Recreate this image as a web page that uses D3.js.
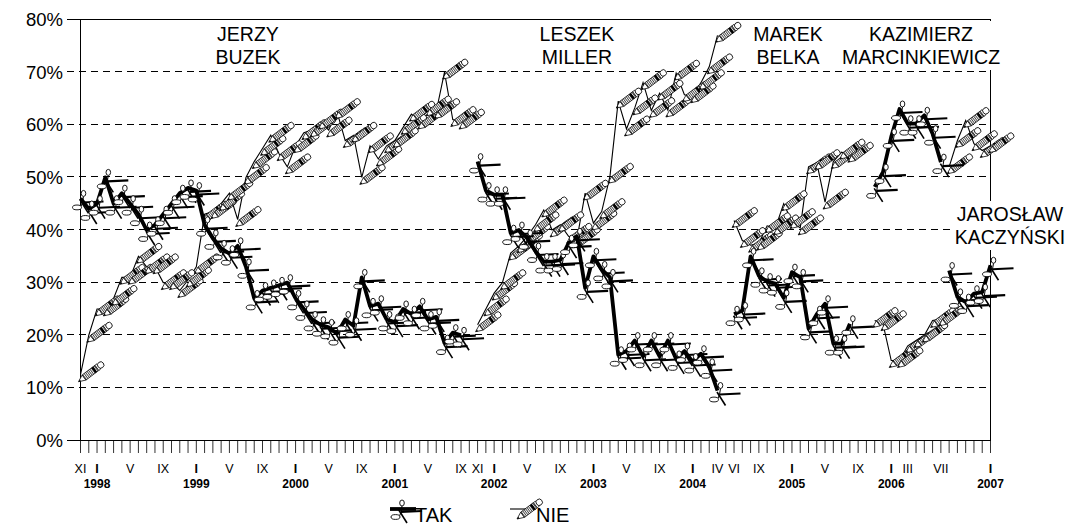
<!DOCTYPE html>
<html><head><meta charset="utf-8">
<script src="https://cdn.jsdelivr.net/npm/d3@7"></script>
<style>body{margin:0;background:#fff}text{font-family:Arial,"Liberation Sans",sans-serif}</style>
</head><body>
<svg id="c" width="1069" height="525"></svg>
<script>
// ---------- DATA ----------
const categories = [
 "1997-11","1997-12",
 "1998-01","1998-02","1998-03","1998-04","1998-05","1998-06","1998-07","1998-08","1998-09","1998-10","1998-11","1998-12",
 "1999-01","1999-02","1999-03","1999-04","1999-05","1999-06","1999-07","1999-08","1999-09","1999-10","1999-11","1999-12",
 "2000-01","2000-02","2000-03","2000-04","2000-05","2000-06","2000-07","2000-08","2000-09","2000-10","2000-11","2000-12",
 "2001-01","2001-02","2001-03","2001-04","2001-05","2001-06","2001-07","2001-08","2001-09","2001-10","2001-11","2001-12",
 "2002-01","2002-02","2002-03","2002-04","2002-05","2002-06","2002-07","2002-08","2002-09","2002-10","2002-11","2002-12",
 "2003-01","2003-02","2003-03","2003-04","2003-05","2003-06","2003-07","2003-08","2003-09","2003-10","2003-11","2003-12",
 "2004-01","2004-02","2004-03","2004-04","2004-05","2004-06","2004-07","2004-08","2004-09","2004-10","2004-11","2004-12",
 "2005-01","2005-02","2005-03","2005-04","2005-05","2005-06","2005-07","2005-08","2005-09","2005-10","2005-11","2005-12",
 "2006-01","2006-02","2006-03","2006-04","2006-05","2006-06","2006-07","2006-08","2006-09","2006-10","2006-11","2006-12",
 "2007-01"
];
// TAK (support) in %
const tak = [
 46,44,
 45,50,45,47,45,43,40,41,43,45,47,48,
 47.5,41,38.5,36.5,35.5,37,33,27,28.5,29,29.5,30,
 27,25,23,22,21.5,20.3,23,21.8,31,25.5,26,23,
 22.5,25,24,25.5,23,23.5,18.5,20.5,20,null,53,47.5,
 46.7,46.7,39.4,40,38.5,36,34,34,34.3,37.5,38.8,29,
 35,32.5,31,16.3,17,19,16,19,16,19,15.5,17,
 15,16.5,14,9.5,null,24,24.7,35,31.3,30.2,29.8,27.1,
 32,31,21.3,24,26,18.4,18.4,22.2,null,null,48.2,51,
 57.7,63,60.2,60.2,61.8,58.3,52.9,32.3,27.3,26.3,27.9,28.2,
 33.3
];
// NIE (opposition) in %
const nie = [
 12.5,20,
 25,25,27,31,31,35,33,33,30,30,28.5,30.5,
 33,43,43.5,45,47,42,50,53,55.5,58,54.5,52,
 56,58.5,59,60.5,59,62.5,57,58,50,56,53.5,56,
 57,59.5,62,60.5,63,62.5,70,61,60.5,null,22,25,
 28,30,35.6,37,38.8,41,43.8,40,41,38.8,38.2,47,
 41.3,43.5,50.2,64.5,59.2,63.2,68,62.7,66,62.8,69.8,65.7,
 65.5,68,71,77,null,41.8,38,37.1,37.5,40.8,40.4,45,
 41.6,40.4,52,52.8,45.3,53,54.8,54.2,null,null,22.8,22.2,
 15.2,15.2,18,19,20,22.8,23.1,52,57,60.8,56.4,55.1,
 56
];
const governments = [
 {name:["JERZY","BUZEK"], from:"1997-11", to:"2001-09"},
 {name:["LESZEK","MILLER"], from:"2001-11", to:"2004-04"},
 {name:["MAREK","BELKA"], from:"2004-06", to:"2005-08"},
 {name:["KAZIMIERZ","MARCINKIEWICZ"], from:"2005-11", to:"2006-07"},
 {name:["JAROSŁAW","KACZYŃSKI"], from:"2006-08", to:"2007-01"}
];
const monthTicks = ["1997-11","1998-01","1998-05","1998-09","1999-01","1999-05","1999-09","2000-01","2000-05","2000-09",
 "2001-01","2001-05","2001-09","2001-11","2002-01","2002-05","2002-09","2003-01","2003-05","2003-09","2004-01","2004-04",
 "2004-06","2004-09","2005-01","2005-05","2005-09","2006-01","2006-03","2006-07","2007-01"];
const romans = ["I","II","III","IV","V","VI","VII","VIII","IX","X","XI","XII"];
const yearTicks = ["1998-01","1999-01","2000-01","2001-01","2002-01","2003-01","2004-01","2005-01","2006-01","2007-01"];
const yTicks = [0,10,20,30,40,50,60,70,80];
const seriesNames = ["TAK","NIE"];

// ---------- LAYOUT ----------
const L = 80, R = 990, T = 19, B = 440;
const svg = d3.select("#c");
svg.append("rect").attr("width",1069).attr("height",525).attr("fill","#fff");
const x = d3.scalePoint().domain(categories).range([L+0.5, R+0.5]);
const y = d3.scaleLinear().domain([0,80]).range([B+0.5, T+0.5]);

// defs: hatch, scissors, pencil
const defs = svg.append("defs");
const pat = defs.append("pattern").attr("id","hatch").attr("patternUnits","userSpaceOnUse").attr("width",1.8).attr("height",8);
pat.append("rect").attr("width",1.8).attr("height",8).attr("fill","#fff");
pat.append("rect").attr("x",0).attr("width",0.9).attr("height",8).attr("fill","#444");

const sc = defs.append("g").attr("id","scis");
sc.append("line").attr("x1",2).attr("y1",4).attr("x2",23).attr("y2",3).attr("stroke","#000").attr("stroke-width",2.1);
sc.append("line").attr("x1",-0.5).attr("y1",1.5).attr("x2",8).attr("y2",15).attr("stroke","#000").attr("stroke-width",1.6);
sc.append("line").attr("x1",3).attr("y1",-2).attr("x2",2).attr("y2",4).attr("stroke","#000").attr("stroke-width",1);
sc.append("line").attr("x1",0.5).attr("y1",8).attr("x2",2).attr("y2",4).attr("stroke","#000").attr("stroke-width",1);
sc.append("ellipse").attr("cx",3).attr("cy",-5).attr("rx",2.3).attr("ry",3).attr("fill","#fff").attr("stroke","#000").attr("stroke-width",0.9);
sc.append("ellipse").attr("cx",-3.5).attr("cy",9).attr("rx",4.5).attr("ry",2.4).attr("fill","#fff").attr("stroke","#000").attr("stroke-width",0.9);

const pc = defs.append("g").attr("id","pencil").attr("transform","rotate(-37)");
pc.append("polygon").attr("points","0,0 7,-3.2 7,3.2").attr("fill","#fff").attr("stroke","#000").attr("stroke-width",0.7);
pc.append("polygon").attr("points","0,0 2.4,-1.1 2.4,1.1").attr("fill","#000");
pc.append("rect").attr("x",7).attr("y",-3.2).attr("width",16).attr("height",6.4).attr("fill","url(#hatch)").attr("stroke","#000").attr("stroke-width",0.7);
pc.append("rect").attr("x",18.5).attr("y",-3.2).attr("width",2.4).attr("height",6.4).attr("fill","#000");
pc.append("rect").attr("x",23).attr("y",-3.2).attr("width",2.5).attr("height",6.4).attr("fill","#fff").attr("stroke","#000").attr("stroke-width",0.7);
pc.append("circle").attr("cx",27.8).attr("cy",0).attr("r",3.2).attr("fill","#fff").attr("stroke","#000").attr("stroke-width",0.8);

// gridlines
svg.append("g").selectAll("line").data(yTicks.filter(d=>d>0 && d<80)).join("line")
 .attr("x1",L-13).attr("x2",R).attr("y1",d=>Math.round(y(d))-0.5).attr("y2",d=>Math.round(y(d))-0.5)
 .attr("stroke","#000").attr("stroke-width",1).attr("stroke-dasharray","7,5");
svg.append("line").attr("x1",L-13).attr("x2",L).attr("y1",B+0.5).attr("y2",B+0.5).attr("stroke","#000");
svg.append("line").attr("x1",L-13).attr("x2",L).attr("y1",T+0.5).attr("y2",T+0.5).attr("stroke","#000");
// y labels
svg.append("g").selectAll("text").data(yTicks).join("text")
 .attr("x",63).attr("y",d=>y(d)+6.5).attr("text-anchor","end").attr("font-size",18.5).text(d=>d+"%");

// x axis ticks
svg.append("g").selectAll("line").data(categories).join("line")
 .attr("x1",d=>x(d)).attr("x2",d=>x(d)).attr("y1",B).attr("y2",B+13).attr("stroke","#333").attr("stroke-width",1);
svg.append("g").selectAll("text").data(monthTicks).join("text")
 .attr("x",d=>x(d)).attr("y",473).attr("text-anchor","middle").attr("font-size",12.5)
 .attr("font-weight",d=>d.endsWith("-01")?"bold":"normal")
 .text(d=>romans[+d.slice(5)-1]);
svg.append("g").selectAll("text").data(yearTicks).join("text")
 .attr("x",d=>x(d)).attr("y",488).attr("text-anchor","middle").attr("font-size",12).attr("font-weight","bold")
 .text(d=>d.slice(0,4));

// frame
svg.append("line").attr("x1",L+0.5).attr("x2",L+0.5).attr("y1",T).attr("y2",B+1).attr("stroke","#000");
svg.append("line").attr("x1",L).attr("x2",R+1).attr("y1",B+0.5).attr("y2",B+0.5).attr("stroke","#000");
svg.append("line").attr("x1",L).attr("x2",R+1).attr("y1",T+0.5).attr("y2",T+0.5).attr("stroke","#000");
svg.append("line").attr("x1",R+0.5).attr("x2",R+0.5).attr("y1",T).attr("y2",B+1).attr("stroke","#000");

// series
const idx = c => categories.indexOf(c);
const line = d3.line().defined(d=>d.v!=null).x(d=>x(d.c)).y(d=>y(d.v));
const plot = svg.append("g");
function segData(vals, g){
  const a = idx(g.from), b = idx(g.to);
  const out = [];
  for(let i=a;i<=b;i++) out.push({c:categories[i], v:vals[i]});
  return out;
}
governments.forEach(g=>{
  plot.append("path").datum(segData(nie,g)).attr("d",line).attr("fill","none").attr("stroke","#000").attr("stroke-width",1.1);
});
governments.forEach(g=>{
  const d = segData(nie,g).filter(p=>p.v!=null);
  plot.append("g").selectAll("use").data(d).join("use").attr("href","#pencil")
    .attr("x",p=>x(p.c)-2).attr("y",p=>y(p.v)+7);
});
governments.forEach(g=>{
  plot.append("path").datum(segData(tak,g)).attr("d",line).attr("fill","none").attr("stroke","#000").attr("stroke-width",3.8).attr("stroke-linejoin","round");
});
governments.forEach(g=>{
  const d = segData(tak,g).filter(p=>p.v!=null);
  plot.append("g").selectAll("use").data(d).join("use").attr("href","#scis")
    .attr("x",p=>x(p.c)).attr("y",p=>y(p.v));
});

// government labels (white boxes)
const labelPos = [[248,41],[577,41],[788,41],[921,41],[1010,221]];
governments.forEach((g,k)=>{
  const [cx,by] = labelPos[k];
  const grp = svg.append("g");
  const bg = grp.append("rect").attr("fill","#fff");
  const t = grp.append("text").attr("text-anchor","middle").attr("font-size",19.5);
  g.name.forEach((s,j)=>t.append("tspan").attr("x",cx).attr("y",by+j*23).text(s));
  const bb = t.node().getBBox();
  bg.attr("x",bb.x-2).attr("y",bb.y-2).attr("width",bb.width+4).attr("height",bb.height+4);
});

// legend
const lg = svg.append("g");
lg.append("line").attr("x1",390).attr("x2",416).attr("y1",509).attr("y2",509).attr("stroke","#000").attr("stroke-width",3.8);
lg.append("use").attr("href","#scis").attr("x",399).attr("y",508);
lg.append("text").attr("x",415).attr("y",522).attr("font-size",20).text(seriesNames[0]);
lg.append("line").attr("x1",510).attr("x2",536).attr("y1",509).attr("y2",509).attr("stroke","#000").attr("stroke-width",1.1);
lg.append("use").attr("href","#pencil").attr("x",517).attr("y",519);
lg.append("text").attr("x",536).attr("y",522).attr("font-size",20).text(seriesNames[1]);
</script>
</body></html>
